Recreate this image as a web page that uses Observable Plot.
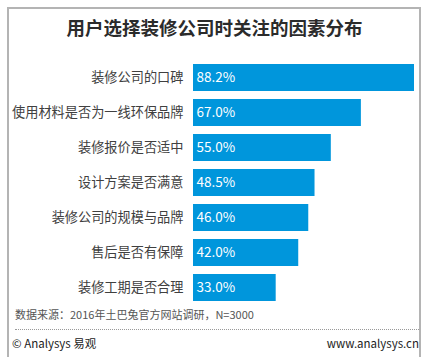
<!DOCTYPE html>
<html><head><meta charset="utf-8">
<script src="https://cdn.jsdelivr.net/npm/d3@7"></script>
<script src="https://cdn.jsdelivr.net/npm/@observablehq/plot@0.6"></script>
<style>
body{margin:0;background:#fff;font-family:"Noto Sans CJK SC","Noto Sans",sans-serif;}
#wrap{position:relative;width:429px;height:357px;overflow:hidden;background:#fff;}
#frame{position:absolute;left:7px;top:7px;width:414px;height:360px;border:2px solid #b4b4b4;box-sizing:border-box;}
#title{position:absolute;left:0;width:429px;top:14px;text-align:center;font-size:18.5px;font-weight:bold;color:#2b2b2b;line-height:26px;}
#chart{position:absolute;left:0;top:50px;}
#src{position:absolute;left:15px;top:306px;font-size:11px;color:#555;line-height:16px;}
#dots{position:absolute;left:15px;width:404px;top:329px;border-top:1px dotted #999;}
#fl{position:absolute;left:12px;top:335px;font-size:11.5px;color:#222;line-height:16px;}
#fr{position:absolute;right:10px;top:335px;font-size:11.5px;color:#222;line-height:16px;}
</style></head>
<body><div id="wrap">
<div id="frame"></div>
<div id="title">用户选择装修公司时关注的因素分布</div>
<div id="chart"></div>
<div id="src">数据来源：2016年土巴兔官方网站调研，N=3000</div>
<div id="dots"></div>
<div id="fl">© Analysys 易观</div>
<div id="fr">www.analysys.cn</div>
</div>
<script>
const categories = ["装修公司的口碑","使用材料是否为一线环保品牌","装修报价是否适中","设计方案是否满意","装修公司的规模与品牌","售后是否有保障","装修工期是否合理"];
const values = [88.2, 67.0, 55.0, 48.5, 46.0, 42.0, 33.0];
const data = categories.map((c,i)=>({cat:c, v:values[i]}));
const chart = Plot.plot({
  width:429, height:260,
  marginLeft:193, marginRight:15, marginTop:9.5, marginBottom:5.5,
  style:{fontFamily:'"Noto Sans CJK SC","Noto Sans",sans-serif', background:"transparent"},
  x:{domain:[0,88.2], axis:null},
  y:{domain:categories, axis:null, paddingInner:0.23, paddingOuter:0.115},
  marks:[
    Plot.barX(data,{x:"v", y:"cat", fill:"#0096dc"}),
    Plot.text(data,{x:0, y:"cat", text:"cat", textAnchor:"end", dx:-10, fill:"#404040", fontSize:13.2}),
    Plot.text(data,{x:0, y:"cat", text:d=>d.v.toFixed(1)+"%", textAnchor:"start", dx:3, fill:"#fff", fontSize:13.5})
  ]
});
document.getElementById("chart").appendChild(chart);
</script>
</body></html>
